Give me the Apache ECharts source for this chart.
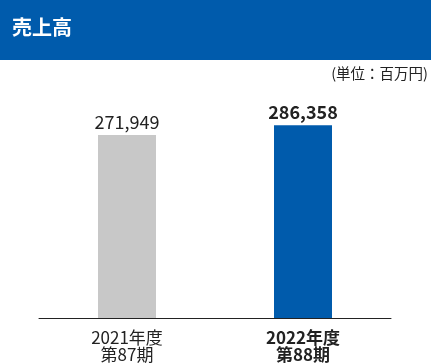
<!DOCTYPE html>
<html><head><meta charset="utf-8">
<script src="https://cdn.jsdelivr.net/npm/echarts@6/dist/echarts.min.js"></script>
<style>html,body{margin:0;padding:0;background:#fff}#c{width:431px;height:363px}</style>
</head><body><div id="c"></div>
<script>
const categories = ['2021年度\n第87期', '2022年度\n第88期'];
const values = [271949, 286358];
const barColors = ['#c8c8c8', '#005bac'];
const titleText = '売上高';
const unitText = '(単位：百万円)';

const font = '"Noto Sans CJK JP", "Noto Sans", sans-serif';
const chart = echarts.init(document.getElementById('c'), null, {renderer: 'canvas'});
chart.setOption({
  animation: false,
  textStyle: {fontFamily: font},
  graphic: [
    {type: 'rect', left: 0, top: 0, shape: {width: 431, height: 60}, style: {fill: '#005bac'}, z: 0},
    {type: 'text', left: 12, top: 17, style: {text: titleText, fill: '#fff', font: 'bold 20px ' + font}, z: 1},
    {type: 'text', right: 3, top: 66, style: {text: unitText, fill: '#222', font: '14.5px ' + font}, z: 1}
  ],
  grid: {left: 39, right: 40, top: 116, bottom: 44},
  xAxis: {
    type: 'category', data: categories,
    axisLine: {lineStyle: {color: '#222', width: 1}},
    axisTick: {show: false},
    axisLabel: {
      margin: 11, lineHeight: 17, fontSize: 17, color: '#222', fontFamily: font,
      formatter: function (v, i) { return i === 1 ? '{b|' + v.replace('\n', '}\n{b|') + '}' : v; },
      rich: {b: {fontWeight: 'bold', fontSize: 17, lineHeight: 17, color: '#222', fontFamily: font}}
    }
  },
  yAxis: {type: 'value', min: 0, max: 300000, show: false, splitLine: {show: false}},
  series: [{
    type: 'bar', barWidth: 58,
    data: values.map((v, i) => ({
      value: v,
      itemStyle: {color: barColors[i]},
      label: {
        show: true, position: 'top', distance: 4,
        fontSize: i === 1 ? 18 : 18, fontWeight: i === 1 ? 'bold' : 'normal',
        color: '#222', fontFamily: font,
        formatter: p => p.value.toLocaleString('en-US')
      }
    }))
  }]
});
</script></body></html>
